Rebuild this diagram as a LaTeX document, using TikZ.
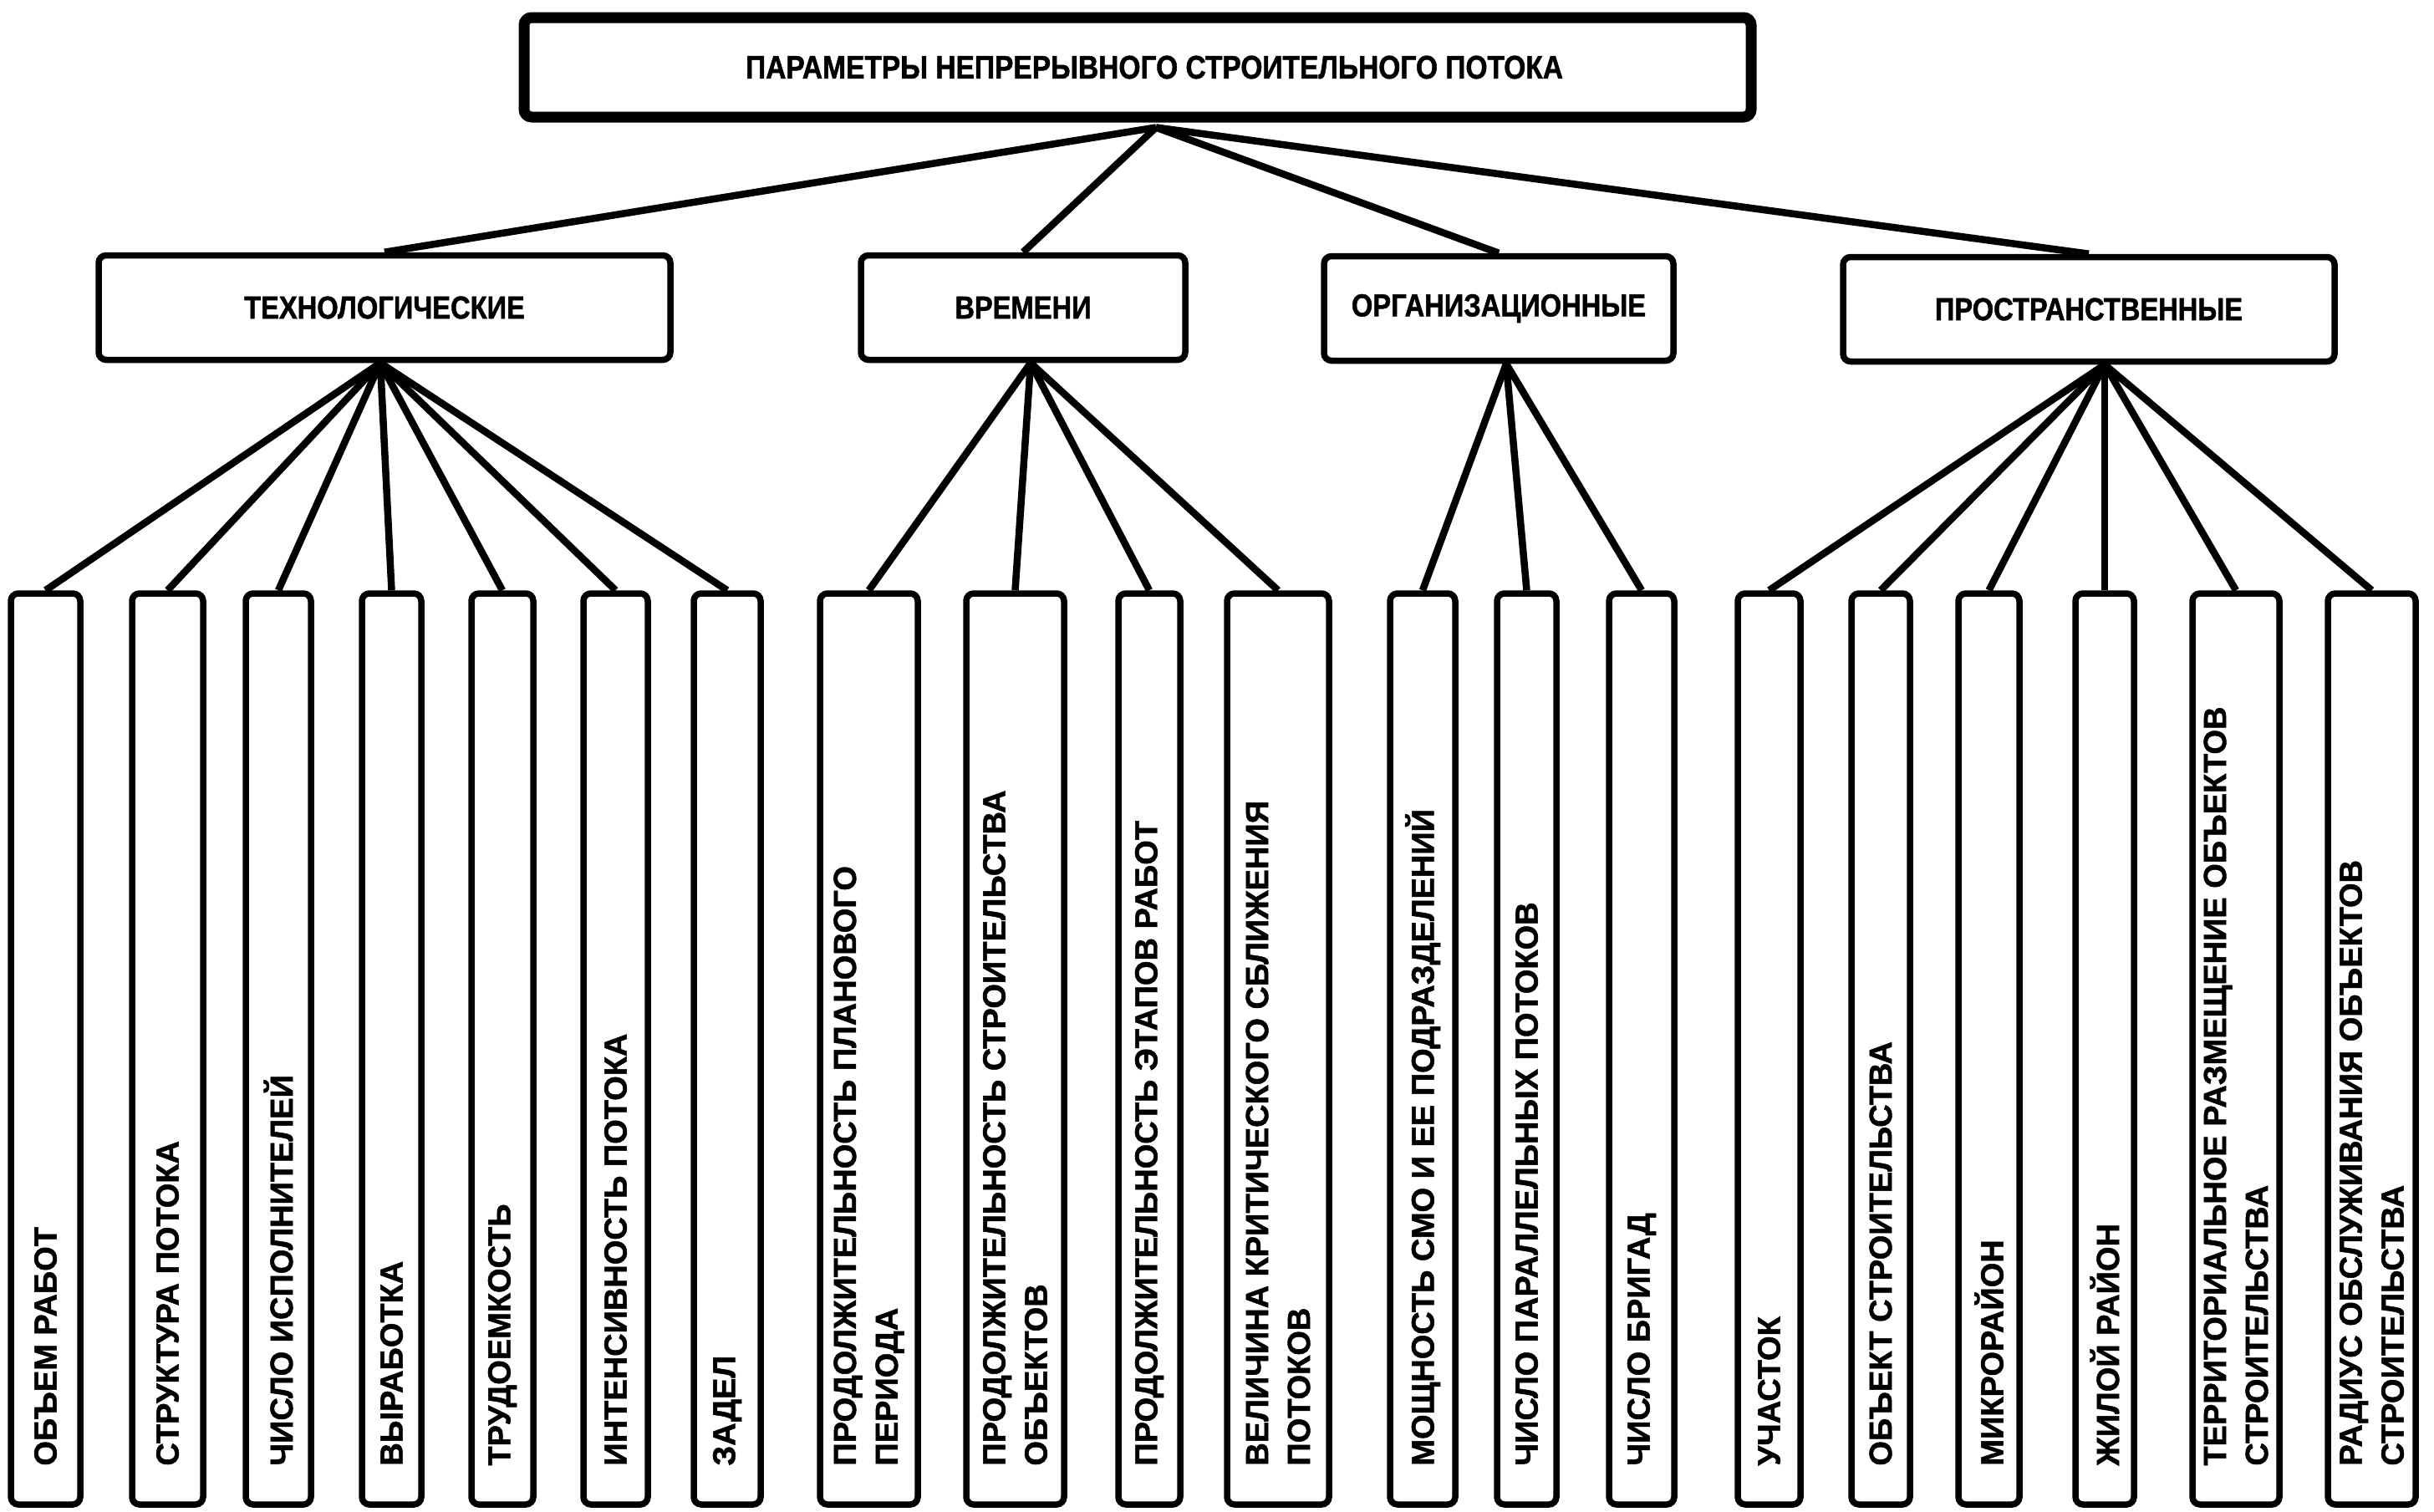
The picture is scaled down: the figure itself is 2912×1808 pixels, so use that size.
\documentclass[tikz,border=0pt]{standalone}
\usepackage{fontspec}
\setmainfont{Liberation Sans}[BoldFeatures={FakeBold=1.3}]
\newfontfamily\narrowfont{Liberation Sans}[FakeStretch=0.86,BoldFeatures={FakeBold=1.3}]
\tikzset{
  box/.style={draw, line width=7.5pt, rounded corners=9pt, inner sep=0pt, fill=white},
  topbox/.style={box, line width=13pt, minimum width=1468pt, minimum height=119pt,
    font=\narrowfont\bfseries\fontsize{39}{47}\selectfont},
  midbox/.style={box, minimum height=125pt,
    font=\narrowfont\bfseries\fontsize{38}{46}\selectfont},
  leafbox/.style={box, minimum height=1090pt},
  leaftext/.style={rotate=90, anchor=west, inner sep=0pt, align=left,
    font=\bfseries\fontsize{38}{50}\selectfont},
  conn/.style={line width=8.5pt}
}
\newcommand\leafnode[4]{%
  \node[leafbox, minimum width=#3pt] (#1) at (#2,1255) {};
  \node[leaftext] (#1t) at ([yshift=50pt]#1.south) {#4};
}
\begin{document}
\begin{tikzpicture}[x=1pt,y=-1pt]
\useasboundingbox (0,0) rectangle (2912,1808);
% top
\node[topbox] (top) at (1361,80.5) {\hspace*{40pt}ПАРАМЕТРЫ НЕПРЕРЫВНОГО СТРОИТЕЛЬНОГО ПОТОКА};
% level 2
\node[midbox, minimum width=684pt] (tech) at (460,368) {ТЕХНОЛОГИЧЕСКИЕ};
\node[midbox, minimum width=388pt] (time) at (1224,368) {ВРЕМЕНИ};
\node[midbox, minimum width=418pt] (org) at (1793,369) {ОРГАНИЗАЦИОННЫЕ};
\node[midbox, minimum width=588pt] (space) at (2499,370) {ПРОСТРАНСТВЕННЫЕ};
% leaves
\leafnode{b1}{54.5}{83}{ОБЪЕМ РАБОТ}
\leafnode{b2}{200.5}{85}{СТРУКТУРА ПОТОКА}
\leafnode{b3}{333}{78}{ЧИСЛО ИСПОЛНИТЕЛЕЙ}
\leafnode{b4}{468.5}{71}{ВЫРАБОТКА}
\leafnode{b5}{601}{74}{ТРУДОЕМКОСТЬ}
\leafnode{b6}{736.5}{77}{ИНТЕНСИВНОСТЬ ПОТОКА}
\leafnode{b7}{870}{80}{ЗАДЕЛ}
\leafnode{b8}{1039.5}{117}{ПРОДОЛЖИТЕЛЬНОСТЬ ПЛАНОВОГО\\ПЕРИОДА}
\leafnode{b9}{1214.5}{117}{ПРОДОЛЖИТЕЛЬНОСТЬ СТРОИТЕЛЬСТВА\\ОБЪЕКТОВ}
\leafnode{b10}{1375}{74}{ПРОДОЛЖИТЕЛЬНОСТЬ ЭТАПОВ РАБОТ}
\leafnode{b11}{1529}{122}{ВЕЛИЧИНА КРИТИЧЕСКОГО СБЛИЖЕНИЯ\\ПОТОКОВ}
\leafnode{b12}{1702}{78}{МОЩНОСТЬ СМО И ЕЕ ПОДРАЗДЕЛЕНИЙ}
\leafnode{b13}{1826.5}{71}{ЧИСЛО ПАРАЛЛЕЛЬНЫХ ПОТОКОВ}
\leafnode{b14}{1964}{78}{ЧИСЛО БРИГАД}
\leafnode{b15}{2116.5}{75}{УЧАСТОК}
\leafnode{b16}{2250}{70}{ОБЪЕКТ СТРОИТЕЛЬСТВА}
\leafnode{b17}{2379.5}{73}{МИКРОРАЙОН}
\leafnode{b18}{2518}{70}{ЖИЛОЙ РАЙОН}
\leafnode{b19}{2675}{104}{ТЕРРИТОРИАЛЬНОЕ РАЗМЕЩЕНИЕ ОБЪЕКТОВ\\СТРОИТЕЛЬСТВА}
\leafnode{b20}{2837.5}{105}{РАДИУС ОБСЛУЖИВАНИЯ ОБЪЕКТОВ\\СТРОИТЕЛЬСТВА}
% junction points
\coordinate (c0) at ([xshift=22pt,yshift=-6pt]top.south);
\coordinate (c1) at ([xshift=-5pt]tech.south);
\coordinate (c2) at ([xshift=9pt]time.south);
\coordinate (c3) at ([xshift=9pt]org.south);
\coordinate (c4) at ([xshift=19pt]space.south);
% connectors
\foreach \n in {tech,time,org,space} \draw[conn] (c0) -- (\n.north);
\foreach \n in {b1,b2,b3,b4,b5,b6,b7} \draw[conn] (c1) -- (\n.north);
\foreach \n in {b8,b9,b10,b11} \draw[conn] (c2) -- (\n.north);
\foreach \n in {b12,b13,b14} \draw[conn] (c3) -- (\n.north);
\foreach \n in {b15,b16,b17,b18,b19,b20} \draw[conn] (c4) -- (\n.north);
\end{tikzpicture}
\end{document}
